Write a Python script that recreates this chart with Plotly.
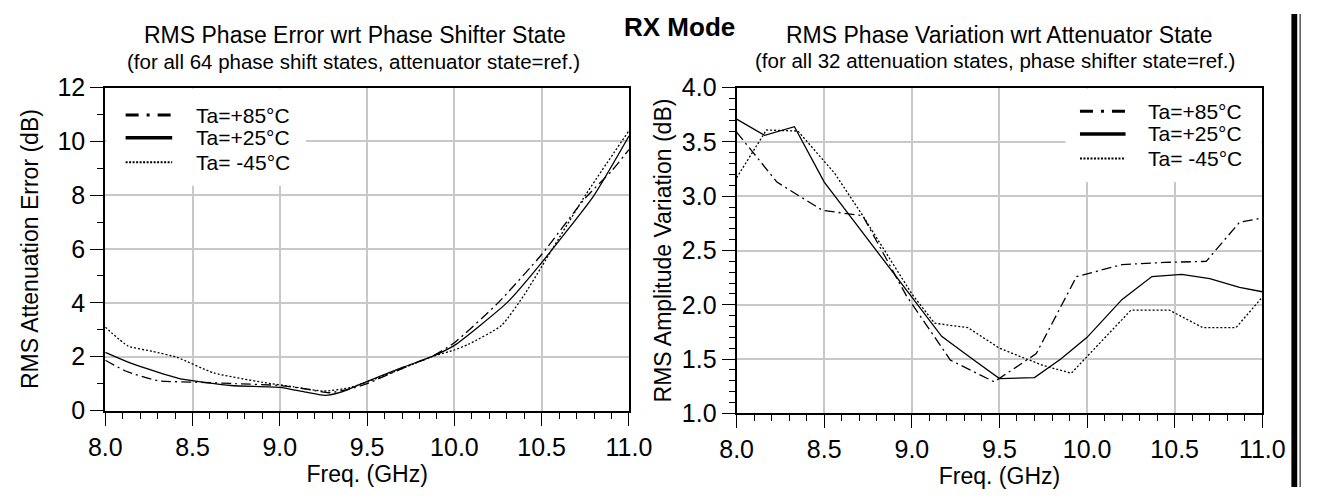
import plotly.graph_objects as go

# ---------------- data ----------------
series_names = ["Ta=+85°C", "Ta=+25°C", "Ta= -45°C"]

# Left: RMS Attenuation Error (dB) vs Freq (GHz)
x85_l = [8.0, 8.12, 8.3, 8.53, 8.75, 9.0, 9.15, 9.28, 9.4, 9.5, 9.75, 9.87, 10.0, 10.25, 10.5, 10.75, 10.9, 11.0]
y85_l = [1.87, 1.46, 1.11, 1.05, 1.0, 0.93, 0.8, 0.66, 0.8, 1.0, 1.7, 2.0, 2.52, 4.0, 5.8, 7.9, 8.9, 9.7]
x25_l = [8.0, 8.15, 8.3, 8.44, 8.72, 9.0, 9.15, 9.26, 9.35, 9.47, 9.71, 9.87, 10.0, 10.3, 10.5, 10.8, 11.0]
y25_l = [2.16, 1.75, 1.43, 1.17, 0.93, 0.86, 0.68, 0.56, 0.68, 1.0, 1.62, 2.0, 2.42, 4.0, 5.5, 8.0, 10.2]
x45_l = [8.0, 8.13, 8.27, 8.41, 8.62, 8.9, 9.08, 9.25, 9.4, 9.6, 9.87, 10.0, 10.08, 10.27, 10.4, 10.5, 10.75, 11.0]
y45_l = [3.1, 2.4, 2.2, 1.98, 1.4, 1.05, 0.88, 0.72, 0.85, 1.3, 2.0, 2.25, 2.46, 3.16, 4.3, 5.35, 8.0, 10.4]

# Right: RMS Amplitude Variation (dB) vs Freq (GHz)
x85_r = [8.0, 8.23, 8.49, 8.72, 8.97, 9.22, 9.47, 9.71, 9.94, 10.2, 10.44, 10.68, 10.87, 11.0]
y85_r = [3.59, 3.13, 2.87, 2.82, 2.08, 1.49, 1.29, 1.55, 2.26, 2.37, 2.39, 2.40, 2.76, 2.80]
x25_r = [8.0, 8.16, 8.33, 8.5, 9.0, 9.17, 9.33, 9.5, 9.7, 9.85, 10.0, 10.2, 10.37, 10.54, 10.7, 10.87, 11.0]
y25_r = [3.71, 3.56, 3.64, 3.13, 2.07, 1.71, 1.52, 1.32, 1.33, 1.5, 1.70, 2.05, 2.26, 2.28, 2.24, 2.16, 2.12]
x45_r = [8.0, 8.17, 8.35, 8.56, 8.72, 9.0, 9.13, 9.32, 9.5, 9.75, 9.91, 10.25, 10.47, 10.66, 10.85, 11.0]
y45_r = [3.17, 3.61, 3.60, 3.21, 2.82, 2.1, 1.83, 1.79, 1.6, 1.44, 1.37, 1.95, 1.95, 1.79, 1.79, 2.07]

x_ticks = [8.0, 8.5, 9.0, 9.5, 10.0, 10.5, 11.0]
yl_ticks = [0, 2, 4, 6, 8, 10, 12]
yr_ticks = [1.0, 1.5, 2.0, 2.5, 3.0, 3.5, 4.0]

# ---------------- styling ----------------
W, H = 1327, 501
FONT = "Liberation Sans, Arial, sans-serif"
dashes = ["10px,4px,2px,4px", "solid", "2px,2px"]
leg_dashes = ["13px,8px,3px,8px", "solid", "2px,1.5px"]
leg_w = [3, 3.5, 2]


def px(x):
    return x / W


def py(y):
    return 1 - y / H


fig = go.Figure()

left = [(x85_l, y85_l), (x25_l, y25_l), (x45_l, y45_l)]
right = [(x85_r, y85_r), (x25_r, y25_r), (x45_r, y45_r)]

for i, (xs, ys) in enumerate(left):
    fig.add_trace(go.Scatter(x=xs, y=ys, mode="lines", name=series_names[i],
                             line=dict(color="black", width=1.3, dash=dashes[i],
                                       shape="spline", smoothing=0.5),
                             showlegend=False, xaxis="x", yaxis="y"))
for i, (xs, ys) in enumerate(right):
    fig.add_trace(go.Scatter(x=xs, y=ys, mode="lines", name=series_names[i],
                             line=dict(color="black", width=1.3, dash=dashes[i]),
                             showlegend=False, xaxis="x2", yaxis="y2"))

TICK = 25
TITLE = 23
common_x = dict(range=[8.0, 11.0], tickvals=x_ticks, tickformat=".1f",
                showline=True, linecolor="black", linewidth=2, mirror=True,
                ticks="outside", ticklen=13, tickwidth=1.2, tickcolor="black",
                minor=dict(dtick=0.1, ticks="outside", ticklen=6, tickwidth=1.2,
                           tickcolor="black", showgrid=False),
                showgrid=True, gridcolor="#c8c8c8", gridwidth=1.5,
                zeroline=False, tickfont=dict(size=TICK, color="black", family=FONT),
                title=dict(text="Freq. (GHz)", font=dict(size=TITLE, color="black", family=FONT),
                           standoff=6))
common_y = dict(showline=True, linecolor="black", linewidth=2, mirror=True,
                ticks="outside", ticklen=13, tickwidth=1.2, tickcolor="black",
                showgrid=True, gridcolor="#c8c8c8", gridwidth=1.5, zeroline=False,
                tickfont=dict(size=TICK, color="black", family=FONT))

fig.update_layout(
    width=W, height=H,
    margin=dict(l=0, r=0, t=0, b=0),
    paper_bgcolor="white", plot_bgcolor="white",
    font=dict(family=FONT, color="black"),
    showlegend=False,
    xaxis=dict(domain=[px(91), px(631)], anchor="y", **common_x),
    yaxis=dict(domain=[py(420), py(78)], anchor="x", range=[0, 12], tickvals=yl_ticks,
               minor=dict(dtick=1, ticks="outside", ticklen=6, tickwidth=1.2,
                          tickcolor="black", showgrid=False),
               title=dict(text="RMS Attenuation Error (dB)",
                          font=dict(size=TITLE, color="black", family=FONT), standoff=12),
               **common_y),
    xaxis2=dict(domain=[px(742), px(1284)], anchor="y2", **common_x),
    yaxis2=dict(domain=[py(423), py(78)], anchor="x2", range=[1.0, 4.0], tickvals=yr_ticks,
                tickformat=".1f",
                minor=dict(dtick=0.1, ticks="outside", ticklen=6, tickwidth=1.2,
                           tickcolor="black", showgrid=False),
                title=dict(text="RMS Amplitude Variation (dB)",
                           font=dict(size=TITLE, color="black", family=FONT), standoff=4),
                **common_y),
)

ann = [
    dict(text="<b>RX Mode</b>", x=px(683), y=py(-3), xref="paper", yref="paper",
         xanchor="center", yanchor="top", showarrow=False, borderpad=0,
         font=dict(size=26, color="black", family=FONT)),
    dict(text="RMS Phase Error wrt Phase Shifter State", x=px(348), y=py(22),
         xref="paper", yref="paper", xanchor="center", yanchor="middle", showarrow=False,
         font=dict(size=23, color="black", family=FONT)),
    dict(text="(for all 64 phase shift states, attenuator state=ref.)", x=px(347), y=py(50),
         xref="paper", yref="paper", xanchor="center", yanchor="middle", showarrow=False,
         font=dict(size=20.5, color="black", family=FONT)),
    dict(text="RMS Phase Variation wrt Attenuator State", x=px(1013), y=py(22),
         xref="paper", yref="paper", xanchor="center", yanchor="middle", showarrow=False,
         font=dict(size=23, color="black", family=FONT)),
    dict(text="(for all 32 attenuation states, phase shifter state=ref.)", x=px(1008), y=py(49),
         xref="paper", yref="paper", xanchor="center", yanchor="middle", showarrow=False,
         font=dict(size=20.5, color="black", family=FONT)),
]

shapes = []
# legend boxes (white, covering the grid) with line samples and labels
legends = [
    dict(box=(92, 79, 298, 182), x0=112, x1=160, tx=182, rows=[107, 131, 157]),
    dict(box=(1081, 79, 1283, 178), x0=1096, x1=1143, tx=1164, rows=[103, 127, 153]),
]
for lg in legends:
    bx0, by0, bx1, by1 = lg["box"]
    shapes.append(dict(type="rect", xref="paper", yref="paper", layer="above",
                       x0=px(bx0), x1=px(bx1), y0=py(by1), y1=py(by0),
                       fillcolor="white", line=dict(width=0)))
    for i, ry in enumerate(lg["rows"]):
        shapes.append(dict(type="line", xref="paper", yref="paper", layer="above",
                           x0=px(lg["x0"]), x1=px(lg["x1"]), y0=py(ry), y1=py(ry),
                           line=dict(color="black", width=leg_w[i], dash=leg_dashes[i])))
        ann.append(dict(text=series_names[i], x=px(lg["tx"]), y=py(ry), xref="paper",
                        yref="paper", xanchor="left", yanchor="middle", showarrow=False,
                        font=dict(size=21, color="black", family=FONT)))

# right-hand black frame bar of the original page
shapes.append(dict(type="rect", xref="paper", yref="paper", x0=px(1314), x1=px(1320),
                   y0=0, y1=1, fillcolor="black", line=dict(width=0)))
shapes.append(dict(type="line", xref="paper", yref="paper", x0=px(1323), x1=px(1323),
                   y0=0, y1=1, line=dict(color="black", width=1)))

fig.update_layout(annotations=ann, shapes=shapes)

fig.write_html("out.html")
